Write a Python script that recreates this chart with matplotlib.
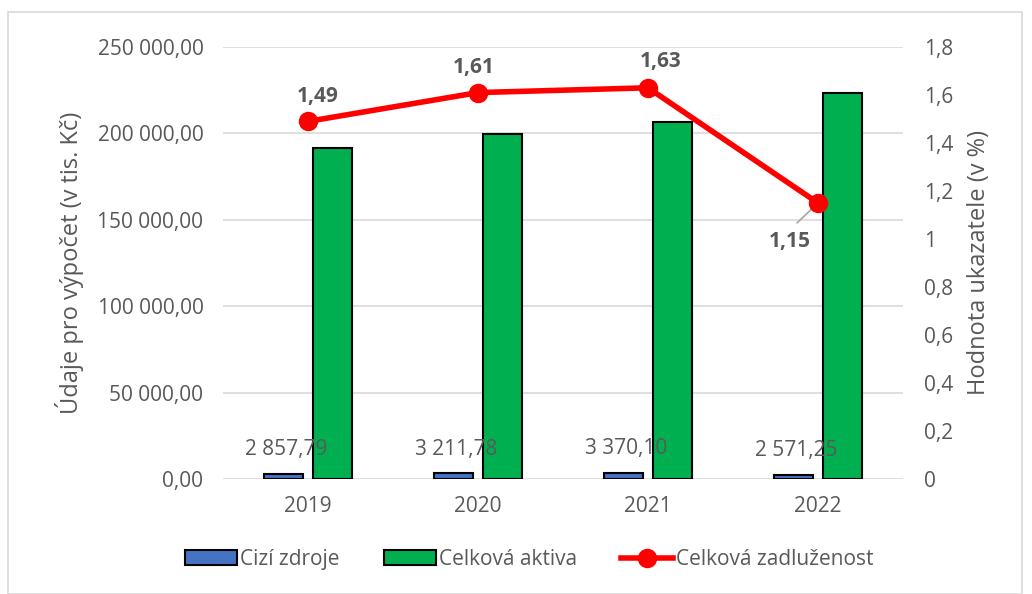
import numpy as np
import matplotlib
matplotlib.use("Agg")
import matplotlib.pyplot as plt
from matplotlib.ticker import FuncFormatter, MultipleLocator
from matplotlib.patches import Rectangle

years = ['2019', '2020', '2021', '2022']
cizi_zdroje = [2857.79, 3211.78, 3370.10, 2571.25]
celkova_aktiva = [191800.0, 199500.0, 206760.0, 223590.0]
zadluzenost = [1.49, 1.61, 1.63, 1.15]

plt.rcParams['font.family'] = ['Open Sans', 'DejaVu Sans']
GREY = '#595959'

def fmt_cz(v, dec=2):
    s = ("{:,.%df}" % dec).format(v)
    return s.replace(',', ' ').replace('.', ',')

fig = plt.figure(figsize=(10.32, 5.94), dpi=100)
fig.patches.append(Rectangle((0.008, 0.0), 0.982, 0.98, transform=fig.transFigure,
                             fill=False, edgecolor='#d9d9d9', lw=1.2))
ax = fig.add_axes([0.216, 0.1936, 0.659, 0.7273])
ax2 = ax.twinx()

x = np.arange(len(years))
w = 0.23
ax.bar(x - 0.145, cizi_zdroje, w, color='#4472C4', edgecolor='black', lw=1.5,
       label='Cizí zdroje', zorder=3)
ax.bar(x + 0.145, celkova_aktiva, w, color='#00B050', edgecolor='black', lw=1.5,
       label='Celková aktiva', zorder=3)
for i, v in enumerate(cizi_zdroje):
    ax.text(x[i] - 0.13, v + 8000, fmt_cz(v), ha='center', va='bottom',
            fontsize=15, color=GREY, zorder=5)

ax.set_xlim(-0.5, 3.5)
ax.set_ylim(0, 250000)
ax.yaxis.set_major_locator(MultipleLocator(50000))
ax.yaxis.set_major_formatter(FuncFormatter(lambda v, p: fmt_cz(v)))
ax.set_xticks(x)
ax.set_xticklabels(years)
ax.grid(axis='y', color='#d9d9d9', lw=1.2, zorder=0)
ax.set_axisbelow(True)
for s in ax.spines.values():
    s.set_visible(False)
for s in ax2.spines.values():
    s.set_visible(False)
ax.tick_params(axis='both', length=0, labelsize=15, labelcolor=GREY)
ax.tick_params(axis='x', pad=12)
ax.tick_params(axis='y', pad=14)
ax.set_ylabel('Údaje pro výpočet (v tis. Kč)', fontsize=17, color=GREY, labelpad=10)

ax2.plot(x, zadluzenost, color='#FF0000', lw=4, marker='o', markersize=13,
         label='Celková zadluženost', zorder=4)
ax2.set_ylim(0, 1.8)
ax2.yaxis.set_major_locator(MultipleLocator(0.2))
ax2.yaxis.set_major_formatter(FuncFormatter(
    lambda v, p: '0' if abs(v) < 1e-9 else ('1' if abs(v - 1) < 1e-9 else fmt_cz(v, 1))))
ax2.tick_params(axis='y', length=0, labelsize=15, labelcolor=GREY, pad=15)
ax2.set_ylabel('Hodnota ukazatele (v %)', fontsize=17, color=GREY, labelpad=10)

offsets = [(7, 18), (-3, 18), (9, 19), (-20, -28)]
for i, v in enumerate(zadluzenost):
    dx, dy = offsets[i]
    if i == 3:
        ax2.annotate(fmt_cz(v), xy=(x[i], v), xytext=(dx, dy), textcoords='offset points',
                     ha='center', va='center', fontsize=15, fontweight='bold', color=GREY,
                     zorder=3,
                     arrowprops=dict(arrowstyle='-', color='#a6a6a6', lw=1.2,
                                     relpos=(0.45, 1.0), shrinkA=6, shrinkB=0))
    else:
        ax2.annotate(fmt_cz(v), xy=(x[i], v), xytext=(dx, dy), textcoords='offset points',
                     ha='center', va='center', fontsize=15, fontweight='bold', color=GREY)

h1, l1 = ax.get_legend_handles_labels()
h2, l2 = ax2.get_legend_handles_labels()
fig.legend(h1 + h2, l1 + l2, loc='center', bbox_to_anchor=(0.513, 0.058), ncol=3,
           frameon=False, fontsize=15, labelcolor=GREY, handlelength=2.5,
           handletextpad=0.15, columnspacing=2.1)

fig.savefig('out.png', dpi=100)
